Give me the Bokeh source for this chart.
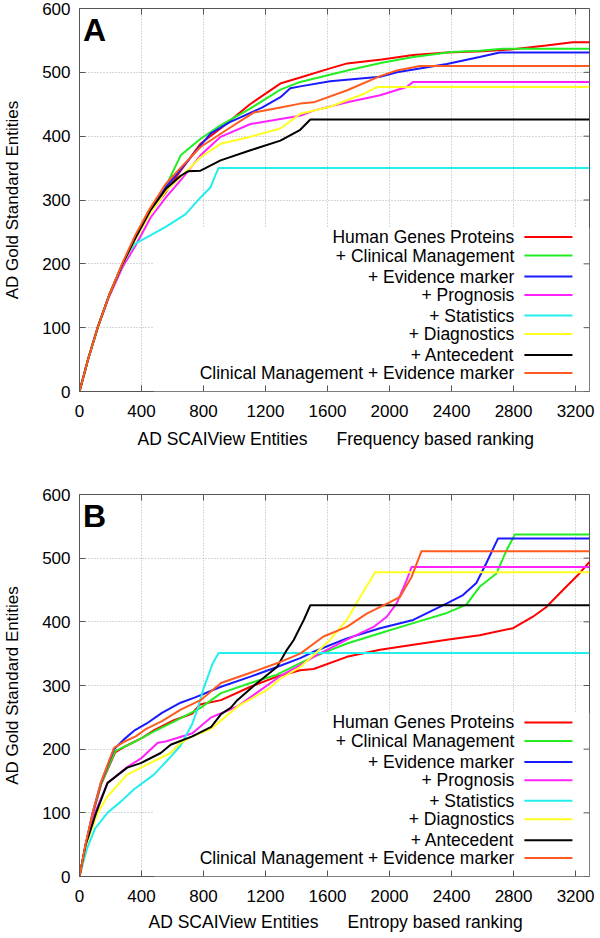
from bokeh.plotting import figure
from bokeh.models import Title, BoxAnnotation, Range1d, FixedTicker
from bokeh.layouts import column
from bokeh.embed import file_html
from bokeh.resources import INLINE
from bokeh.core.properties import value

# ---------------- data ----------------
SERIES = ["Human Genes Proteins", "+ Clinical Management", "+ Evidence marker",
          "+ Prognosis", "+ Statistics", "+ Diagnostics", "+ Antecedent",
          "Clinical Management + Evidence marker"]
COLORS = ["#ff0000", "#22ee22", "#1a1aff", "#ff22ff", "#22eeee", "#ffff22", "#000000", "#ff5a1f"]

X_TICKS = [0, 400, 800, 1200, 1600, 2000, 2400, 2800, 3200]
Y_TICKS = [0, 100, 200, 300, 400, 500, 600]

# Panel A: frequency based ranking
a_red_x = [0, 55, 117, 190, 278, 360, 450, 550, 650, 780, 910, 1100, 1300, 1424, 1600, 1727, 1950, 2153, 2370, 2600, 2797, 3010, 3180, 3290]
a_red_y = [0, 50, 100, 150, 200, 242, 280, 310, 345, 388, 412, 450, 483, 492, 505, 514, 520, 527, 531, 533, 536, 542, 547, 547]
a_green_x = [0, 55, 117, 190, 278, 360, 450, 550, 653, 781, 910, 1100, 1296, 1424, 1727, 1950, 2153, 2400, 2581, 2730, 3290]
a_green_y = [0, 50, 100, 150, 200, 240, 280, 318, 370, 396, 417, 443, 473, 485, 503, 515, 524, 532, 534, 537, 537]
a_blue_x = [0, 55, 117, 190, 278, 360, 450, 556, 653, 845, 970, 1180, 1296, 1360, 1424, 1617, 1939, 2048, 2370, 2581, 2711, 3290]
a_blue_y = [0, 50, 100, 150, 200, 240, 280, 320, 348, 404, 422, 445, 461, 475, 478, 486, 493, 500, 513, 524, 531, 531]
a_mag_x = [0, 55, 117, 190, 278, 360, 460, 560, 653, 781, 910, 1103, 1296, 1424, 1510, 1727, 1939, 2110, 2153, 3290]
a_mag_y = [0, 50, 100, 148, 195, 228, 273, 305, 331, 370, 399, 419, 427, 432, 440, 453, 464, 477, 485, 485]
a_cyan_x = [0, 55, 117, 190, 278, 330, 363, 460, 556, 685, 781, 846, 880, 897, 3290]
a_cyan_y = [0, 50, 100, 150, 200, 222, 232, 245, 258, 278, 304, 320, 341, 350, 350]
a_yel_x = [0, 55, 117, 190, 278, 360, 460, 560, 653, 781, 910, 1103, 1296, 1424, 1617, 1831, 1918, 3290]
a_yel_y = [0, 50, 100, 150, 200, 238, 280, 315, 336, 367, 388, 399, 412, 435, 446, 466, 477, 477]
a_black_x = [0, 55, 117, 190, 278, 360, 460, 560, 653, 700, 781, 910, 1103, 1296, 1424, 1489, 3290]
a_black_y = [0, 50, 100, 150, 200, 240, 285, 318, 338, 345, 346, 362, 378, 393, 410, 426, 426]
a_orange_x = [0, 55, 117, 190, 278, 360, 450, 556, 650, 781, 950, 1123, 1296, 1424, 1510, 1727, 1939, 2048, 2196, 3290]
a_orange_y = [0, 50, 100, 150, 202, 245, 285, 325, 350, 383, 410, 437, 445, 451, 453, 472, 494, 503, 510, 510]

# Panel B: entropy based ranking
b_red_x = [0, 40, 88, 140, 230, 300, 407, 482, 606, 728, 776, 913, 1103, 1274, 1424, 1510, 1725, 1939, 2153, 2370, 2581, 2797, 2925, 3010, 3119, 3225, 3290]
b_red_y = [0, 50, 100, 145, 195, 205, 218, 230, 245, 256, 270, 277, 298, 314, 324, 326, 345, 356, 364, 372, 379, 390, 408, 423, 450, 476, 494]
b_green_x = [0, 40, 87, 140, 230, 358, 482, 606, 776, 913, 1103, 1274, 1424, 1510, 1725, 1939, 2153, 2370, 2496, 2581, 2690, 2754, 2808, 3290]
b_green_y = [0, 50, 100, 146, 197, 212, 228, 243, 264, 288, 304, 317, 335, 345, 366, 382, 398, 414, 427, 455, 476, 512, 537, 537]
b_blue_x = [0, 40, 85, 138, 223, 285, 358, 431, 532, 652, 742, 913, 1103, 1274, 1424, 1510, 1725, 1939, 2153, 2370, 2474, 2560, 2624, 2700, 3290]
b_blue_y = [0, 50, 100, 147, 200, 215, 230, 240, 257, 273, 281, 298, 314, 329, 343, 353, 374, 390, 403, 429, 442, 461, 492, 531, 531]
b_mag_x = [0, 40, 100, 181, 308, 395, 505, 556, 728, 850, 1018, 1296, 1424, 1510, 1725, 1897, 1982, 2046, 2110, 2142, 3290]
b_mag_y = [0, 50, 100, 147, 172, 185, 210, 212, 225, 250, 267, 315, 332, 345, 372, 392, 408, 429, 465, 486, 486]
b_cyan_x = [0, 50, 100, 180, 268, 352, 480, 588, 650, 728, 760, 800, 860, 898, 3290]
b_cyan_y = [0, 45, 75, 100, 118, 137, 160, 188, 205, 240, 262, 295, 335, 351, 351]
b_yel_x = [0, 40, 118, 181, 308, 437, 588, 652, 728, 850, 1025, 1210, 1296, 1424, 1510, 1617, 1725, 1810, 1875, 1907, 3290]
b_yel_y = [0, 48, 100, 126, 160, 176, 194, 210, 220, 232, 268, 293, 311, 329, 348, 372, 403, 439, 465, 478, 478]
b_black_x = [0, 40, 107, 181, 308, 395, 524, 588, 728, 850, 913, 975, 1018, 1146, 1274, 1338, 1381, 1447, 1489, 3290]
b_black_y = [0, 50, 100, 147, 171, 178, 194, 207, 220, 235, 255, 265, 277, 304, 329, 356, 371, 403, 426, 426]
b_orange_x = [0, 40, 85, 138, 223, 290, 363, 431, 532, 653, 781, 913, 1103, 1296, 1424, 1574, 1725, 1853, 2003, 2067, 2143, 2206, 3290]
b_orange_y = [0, 52, 100, 148, 202, 212, 220, 232, 244, 262, 277, 304, 320, 337, 350, 377, 392, 413, 431, 439, 471, 511, 511]

A_XS = [a_red_x, a_green_x, a_blue_x, a_mag_x, a_cyan_x, a_yel_x, a_black_x, a_orange_x]
A_YS = [a_red_y, a_green_y, a_blue_y, a_mag_y, a_cyan_y, a_yel_y, a_black_y, a_orange_y]
B_XS = [b_red_x, b_green_x, b_blue_x, b_mag_x, b_cyan_x, b_yel_x, b_black_x, b_orange_x]
B_YS = [b_red_y, b_green_y, b_blue_y, b_mag_y, b_cyan_y, b_yel_y, b_black_y, b_orange_y]

# ---------------- styling / layout ----------------
FONT = "Liberation Sans"
FS = "17px"
LFS = "17.5px"
FRAME_COLOR = "#555555"
X_END = 3290
Y_END = 600
LEG_ROWS = [242, 213, 180, 151, 119, 90, 57, 29]   # legend row positions (data units)
LEG_TEXT_X = 2805
LEG_LINE_X0, LEG_LINE_X1 = 2870, 3180
TICK_LEN_X = 38     # mirror tick length on the right (x units, ~6px)
TICK_LEN_Y = 9.4    # mirror tick length on top (y units, ~6px)


def make_panel(xs, ys, letter, xtitle, title_offset, height, btop, bbot, tstand):
    p = figure(width=597, height=height, x_range=Range1d(0, X_END), y_range=Range1d(0, Y_END),
               output_backend="svg", toolbar_location=None,
               min_border_left=77, min_border_right=8, min_border_top=btop, min_border_bottom=bbot)
    p.outline_line_color = FRAME_COLOR
    p.outline_line_width = 1
    p.background_fill_color = "white"
    p.border_fill_color = "white"

    for ax, ticks in ((p.xaxis[0], X_TICKS), (p.yaxis[0], Y_TICKS)):
        ax.ticker = FixedTicker(ticks=ticks)
        ax.axis_line_color = None
        ax.major_tick_in = 6
        ax.major_tick_out = 0
        ax.minor_tick_line_color = None
        ax.major_tick_line_color = FRAME_COLOR
        ax.major_label_text_font = FONT
        ax.major_label_text_font_size = FS
        ax.major_label_text_color = "black"
        ax.axis_label_text_font = FONT
        ax.axis_label_text_font_size = FS
        ax.axis_label_text_font_style = "normal"
        ax.axis_label_text_color = "black"
    p.xaxis.major_label_standoff = 13
    p.yaxis.major_label_standoff = 9
    p.yaxis.axis_label = "AD Gold Standard Entities"
    p.yaxis.axis_label_standoff = 17

    p.xgrid.ticker = FixedTicker(ticks=X_TICKS)
    p.ygrid.ticker = FixedTicker(ticks=Y_TICKS)
    for g in (p.xgrid, p.ygrid):
        g.grid_line_color = "#b0b0b0"
        g.grid_line_dash = "1 2"
        g.grid_line_width = 1

    # key box hides the grid (gnuplot key)
    box = BoxAnnotation(left=480, right=X_END, bottom=0, top=257, fill_color="white",
                        fill_alpha=1.0, line_color=None, level="underlay")
    p.add_layout(box)

    # mirror ticks on top and right (gnuplot style)
    p.segment(x0=X_TICKS, x1=X_TICKS, y0=[Y_END] * len(X_TICKS),
              y1=[Y_END - TICK_LEN_Y] * len(X_TICKS), line_color=FRAME_COLOR, line_width=1)
    p.segment(x0=[X_END] * len(Y_TICKS), x1=[X_END - TICK_LEN_X] * len(Y_TICKS),
              y0=Y_TICKS, y1=Y_TICKS, line_color=FRAME_COLOR, line_width=1)

    for x, y, c in zip(xs, ys, COLORS):
        p.line(x, y, line_color=c, line_width=2)

    # key
    p.text(x=[LEG_TEXT_X] * len(SERIES), y=LEG_ROWS, text=SERIES, text_align="right",
           text_baseline="middle", text_font=value(FONT), text_font_size=value(LFS),
           text_color="black")
    p.segment(x0=[LEG_LINE_X0] * len(SERIES), x1=[LEG_LINE_X1] * len(SERIES),
              y0=LEG_ROWS, y1=LEG_ROWS, line_color=COLORS, line_width=2)

    p.text(x=[22], y=[566], text=[letter], text_align="left", text_baseline="alphabetic",
           text_font=value(FONT), text_font_size=value("32px"), text_font_style="bold",
           text_color="black")

    t = Title(text=xtitle, align="left", offset=title_offset, standoff=tstand,
              text_font=FONT, text_font_size=LFS, text_font_style="normal", text_color="black")
    p.add_layout(t, "below")
    return p


GAP = "\u00a0" * 6
pA = make_panel(A_XS, A_YS, "A", "AD SCAIView Entities" + GAP + "Frequency based ranking",
                58, 484, 8, 93, 15)
pB = make_panel(B_XS, B_YS, "B", "AD SCAIView Entities" + GAP + "Entropy based ranking",
                69, 453, 10, 61, 11)

layout = column(pA, pB)
open("out.html", "w").write(file_html(layout, INLINE))
